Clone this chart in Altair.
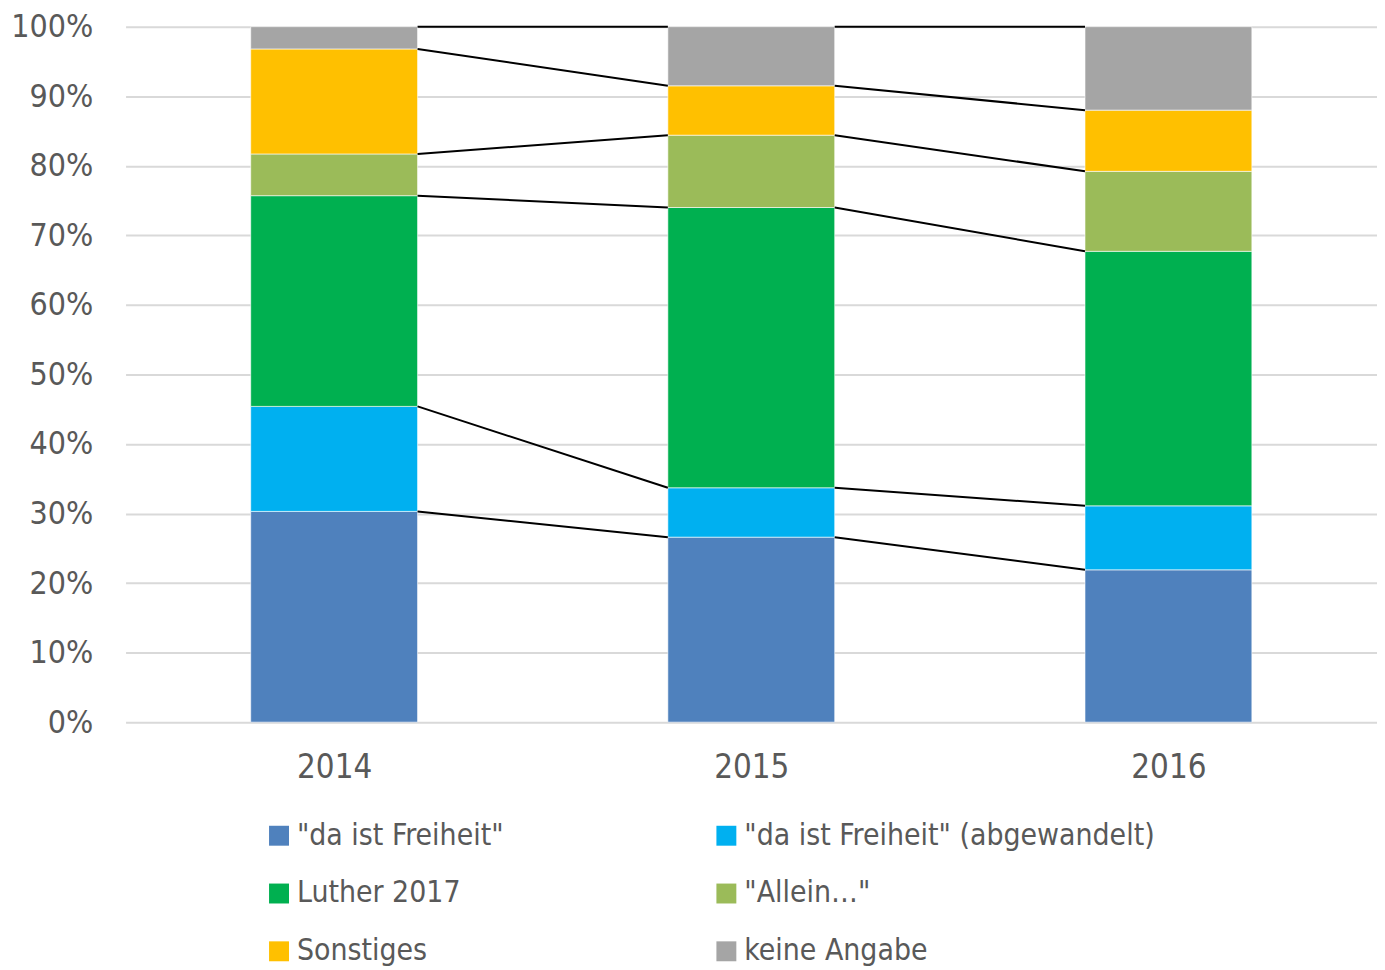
import altair as alt
import pandas as pd

years = [2014, 2015, 2016]
series = ['"da ist Freiheit"', '"da ist Freiheit" (abgewandelt)', 'Luther 2017',
          '"Allein…"', 'Sonstiges', 'keine Angabe']
colors = ["#4F81BD", "#00B0F0", "#00B050", "#9BBB59", "#FFC000", "#A5A5A5"]
share_2014 = [30.3, 15.1, 30.3, 6.0, 15.1, 3.2]
share_2015 = [26.6, 7.1, 40.3, 10.4, 7.1, 8.5]
share_2016 = [21.9, 9.2, 36.6, 11.5, 8.8, 12.0]

shares = {2014: share_2014, 2015: share_2015, 2016: share_2016}

FONT = "Liberation Sans Narrow, Arial Narrow, DejaVu Sans Condensed, sans-serif"
HALF = 0.2  # half bar width in year units

rows = []
for yr in years:
    cum = 0.0
    for i, s in enumerate(series):
        v = shares[yr][i]
        rows.append({"year": yr, "series": s, "order": i, "y0": cum, "y1": cum + v})
        cum += v
bars_df = pd.DataFrame(rows)

tops = {(r["year"], r["series"]): r["y1"] for r in rows}
lrows = []
for i, s in enumerate(series):
    for k in range(len(years) - 1):
        a, b = years[k], years[k + 1]
        seg = f"{i}-{k}"
        lrows.append({"seg": seg, "year": a, "side": 1, "top": tops[(a, s)]})
        lrows.append({"seg": seg, "year": b, "side": -1, "top": tops[(b, s)]})
lines_df = pd.DataFrame(lrows)

xscale = alt.Scale(domain=[2013.5, 2016.5], nice=False, zero=False)
yscale = alt.Scale(domain=[0, 100], nice=False)

xaxis = alt.Axis(values=years, format="d", grid=False, ticks=False, domain=False,
                 labelFontSize=33, labelColor="#595959", labelFont=FONT, labelPadding=30)
yaxis = alt.Axis(values=list(range(0, 101, 10)), labelExpr="datum.value + '%'",
                 grid=True, gridColor="#D9D9D9", gridWidth=2, ticks=False,
                 domain=False, labelFontSize=32, labelColor="#595959",
                 labelFont=FONT, labelPadding=33)

bars = alt.Chart(bars_df).transform_calculate(
    xl=f"datum.year - {HALF}", xr=f"datum.year + {HALF}"
).mark_bar(stroke="white", strokeWidth=0.6).encode(
    x=alt.X("xl:Q", scale=xscale, title=None, axis=xaxis),
    x2="xr:Q",
    y=alt.Y("y0:Q", scale=yscale, title=None, axis=yaxis),
    y2="y1:Q",
    color=alt.Color("series:N", scale=alt.Scale(domain=series, range=colors), title=None,
                    legend=alt.Legend(orient="none", legendX=139, legendY=797, columns=2,
                                      direction="horizontal",
                                      symbolType="square", symbolSize=400,
                                      symbolStrokeWidth=0, labelFontSize=30,
                                      labelColor="#595959", labelFont=FONT,
                                      labelOffset=3, rowPadding=28, columnPadding=208,
                                      labelLimit=600)),
    order=alt.Order("order:Q"),
)

lines = alt.Chart(lines_df).transform_calculate(
    lx=f"datum.year + datum.side * {HALF}"
).mark_line(color="black", strokeWidth=2).encode(
    x=alt.X("lx:Q", scale=xscale, title=None, axis=xaxis),
    y=alt.Y("top:Q", scale=yscale, title=None, axis=yaxis),
    detail="seg:N",
)

chart = alt.layer(bars, lines).properties(
    width=1256, height=698,
    padding={"left": 118, "top": 17, "right": 0, "bottom": 245},
    autosize=alt.AutoSizeParams(type="none"),
).configure_view(stroke=None)

chart.save("out.html", embed_options={"renderer": "svg", "actions": False})
